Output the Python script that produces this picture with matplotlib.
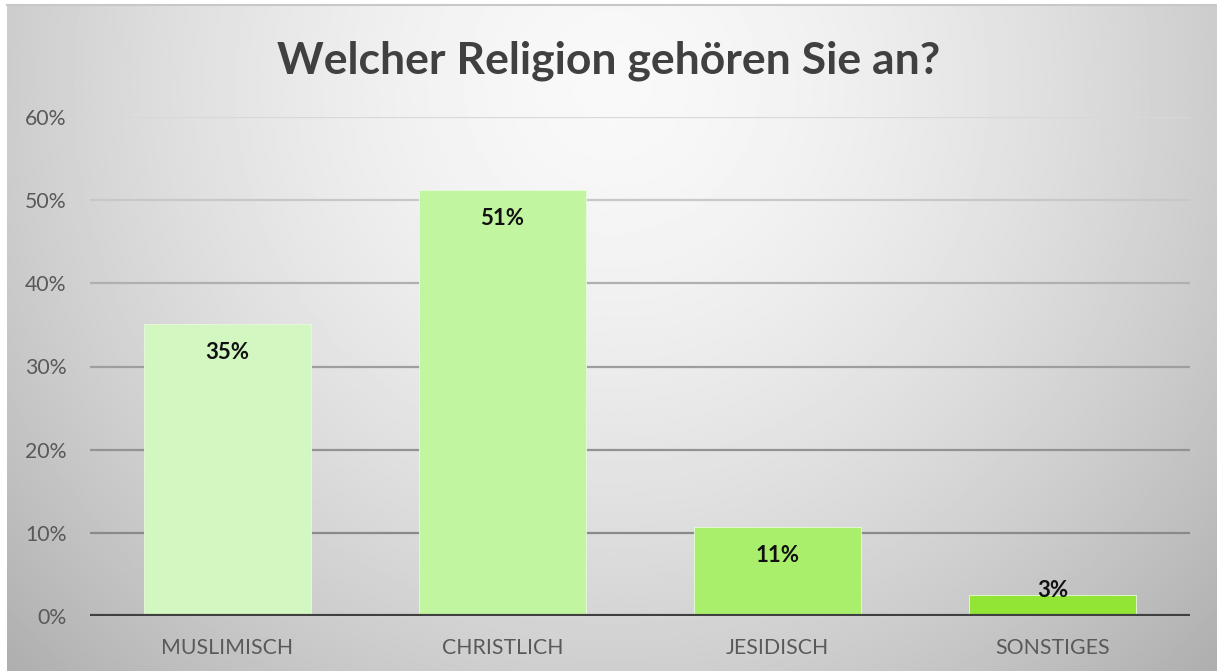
import numpy as np
import matplotlib
matplotlib.use("Agg")
import matplotlib.pyplot as plt
from matplotlib.ticker import PercentFormatter

# ---- data ----
categories = ["MUSLIMISCH", "CHRISTLICH", "JESIDISCH", "SONSTIGES"]
values = [0.351, 0.512, 0.107, 0.025]
labels = ["35%", "51%", "11%", "3%"]
yticks = [0.0, 0.1, 0.2, 0.3, 0.4, 0.5, 0.6]
title = "Welcher Religion gehören Sie an?"

bar_colors = ["#d3f7c0", "#c1f5a0", "#a9ef6c", "#92e535"]
grid_colors = ["#404040", "#8a8a8a", "#939393", "#9e9e9e", "#b0b0b0", "#c8c8c8", "#d8d8d8"]

W, H = 1217, 671
fig = plt.figure(figsize=(W / 100, H / 100), dpi=100, facecolor="white")
font = "Lato"

# background gradient
bg = fig.add_axes([7 / W, 0, 1 - 7 / W, (H - 5) / H], zorder=-10)
yy, xx = np.mgrid[0:1:300j, 0:1:600j]
r = np.sqrt(((xx - 0.5) / 0.55) ** 2 + ((yy - 0.12) / 1.0) ** 2)
val = 0.975 - 0.2 * np.clip(r, 0, 1.3) ** 1.6
bg.imshow(val, cmap="gray", vmin=0, vmax=1, aspect="auto", extent=[0, 1, 1, 0], interpolation="bilinear")
bg.axis("off")
fig.add_artist(plt.Line2D([7 / W, 1], [(H - 5) / H, (H - 5) / H], color="#c8c8c8", lw=1.5))

ax = fig.add_axes([90 / W, 55 / H, 1100 / W, (616 - 117) / H])
ax.set_facecolor("none")
x = np.arange(len(categories))
bars = ax.bar(x, values, width=0.606, color=bar_colors, edgecolor="#e8fadc", linewidth=0.6, zorder=3)
ax.set_xlim(-0.5, len(categories) - 0.5)
ax.set_ylim(0, 0.6)
ax.set_yticks(yticks)
ax.yaxis.set_major_formatter(PercentFormatter(1.0, decimals=0))
ax.set_xticks(x)
ax.set_xticklabels(categories)
ax.tick_params(axis="both", length=0, colors="#595959", labelsize=15.3)
ax.tick_params(axis="y", pad=17)
ax.tick_params(axis="x", pad=16)
for lab in ax.get_xticklabels() + ax.get_yticklabels():
    lab.set_fontfamily(font)
for s in ax.spines.values():
    s.set_visible(False)
ax.yaxis.grid(True, linewidth=1.6, zorder=1)
for gl, c in zip(ax.get_ygridlines(), grid_colors):
    gl.set_color(c)
ax.axhline(0, color="#404040", lw=3, zorder=4)

for xi, v, lab in zip(x, values, labels):
    yc = max(v - 0.0337, 0.031)
    ax.text(xi, yc, lab, ha="center", va="center", fontsize=16, fontweight="bold",
            color="#111111", family=font, zorder=5)

fig.text(609 / W, 1 - 61 / H, title, ha="center", va="center", fontsize=32,
         fontweight="bold", color="#404040", family=font)

fig.savefig("out.png", dpi=100, facecolor="white")
